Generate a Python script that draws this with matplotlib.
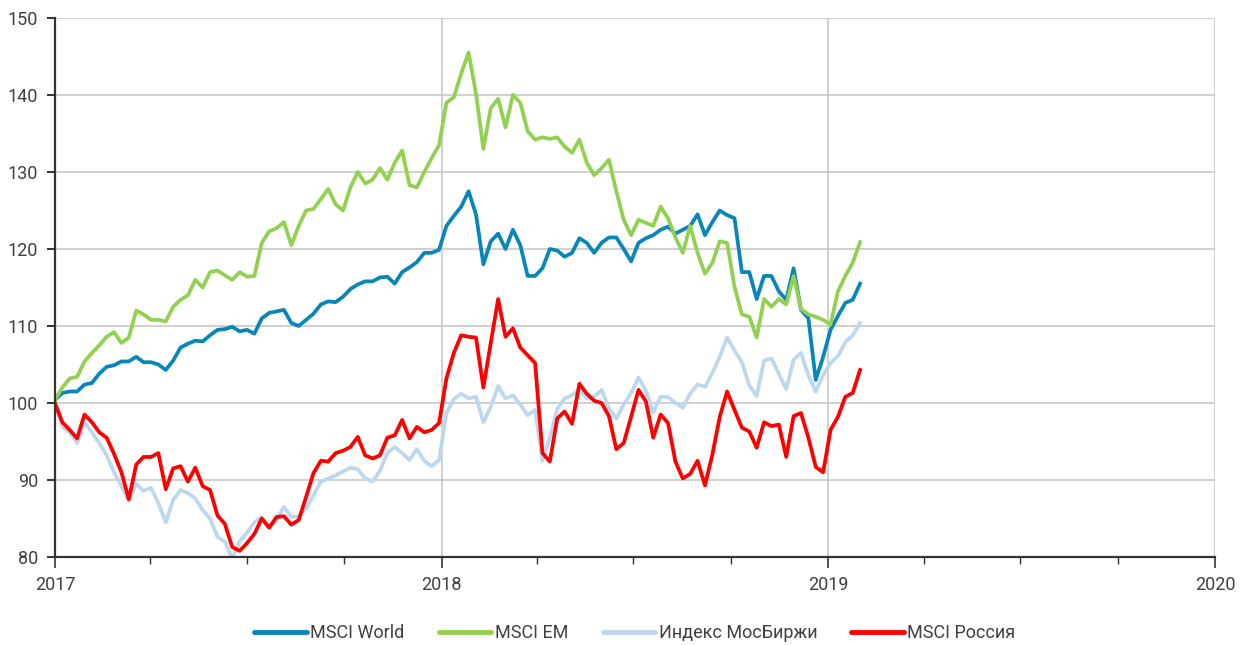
import matplotlib
matplotlib.use("Agg")
import matplotlib.pyplot as plt
import matplotlib.dates as mdates
import pandas as pd
import numpy as np

plt.rcParams['font.family'] = ['Roboto', 'DejaVu Sans']

# ---- data (weekly observations, Jan 2017 - end Jan 2019) ----
start_date = '2017-01-01'
end_date = '2019-01-31'

msci_world = [
    100.4, 101.3, 101.5, 101.5, 102.4, 102.6, 103.8, 104.7, 104.9, 105.4,
    105.4, 106.0, 105.3, 105.3, 105.0, 104.3, 105.5, 107.2, 107.7, 108.1,
    108.0, 108.8, 109.5, 109.6, 109.9, 109.3, 109.5, 109.0, 111.0, 111.7,
    111.9, 112.1, 110.4, 110.0, 110.8, 111.6, 112.8, 113.2, 113.1, 113.8,
    114.8, 115.4, 115.8, 115.8, 116.3, 116.4, 115.5, 117.0, 117.6, 118.3,
    119.5, 119.5, 119.9, 123.0, 124.3, 125.5, 127.5, 124.5, 118.0, 121.0,
    122.0, 120.0, 122.5, 120.5, 116.5, 116.5, 117.5, 120.0, 119.8, 119.0,
    119.5, 121.4, 120.8, 119.5, 120.8, 121.5, 121.5, 120.0, 118.4, 120.8,
    121.4, 121.8, 122.5, 122.9, 122.0, 122.5, 123.0, 124.5, 121.8, 123.5,
    125.0, 124.4, 124.0, 117.0, 117.0, 113.5, 116.5, 116.5, 114.5, 113.4,
    117.5, 112.1, 111.0, 103.0, 106.0, 109.5, 111.3, 113.0, 113.4, 115.5,
]

msci_em = [
    100.4, 102.0, 103.2, 103.4, 105.4, 106.5, 107.5, 108.6, 109.2, 107.8,
    108.5, 112.0, 111.5, 110.8, 110.8, 110.6, 112.5, 113.4, 114.0, 116.0,
    115.0, 117.0, 117.2, 116.6, 116.0, 117.0, 116.4, 116.5, 120.8, 122.3,
    122.7, 123.5, 120.5, 123.0, 125.0, 125.2, 126.5, 127.8, 125.8, 125.0,
    128.0, 130.0, 128.5, 129.0, 130.5, 129.0, 131.2, 132.8, 128.3, 128.0,
    130.0, 131.8, 133.5, 139.0, 139.7, 142.8, 145.5, 140.2, 133.0, 138.3,
    139.5, 135.8, 140.0, 139.0, 135.3, 134.2, 134.5, 134.3, 134.5, 133.3,
    132.5, 134.2, 131.2, 129.6, 130.5, 131.6, 127.5, 123.8, 121.8, 123.8,
    123.4, 123.0, 125.5, 124.0, 121.5, 119.5, 123.0, 119.5, 116.8, 118.2,
    121.0, 120.8, 115.1, 111.5, 111.2, 108.5, 113.5, 112.5, 113.5, 112.8,
    116.5, 112.2, 111.5, 111.2, 110.8, 110.2, 114.5, 116.5, 118.2, 120.9,
]

moex_index = [
    100.0, 96.9, 96.2, 94.8, 97.5, 96.2, 94.8, 93.2, 91.0, 89.2,
    87.3, 89.5, 88.6, 89.0, 87.0, 84.5, 87.4, 88.7, 88.3, 87.6,
    86.1, 85.0, 82.6, 82.0, 79.8, 82.0, 83.2, 84.5, 85.2, 83.9,
    84.8, 86.5, 85.2, 85.3, 86.3, 88.0, 89.8, 90.2, 90.6, 91.1,
    91.6, 91.4, 90.2, 89.8, 91.2, 93.5, 94.3, 93.5, 92.6, 94.0,
    92.5, 91.8, 92.6, 98.7, 100.5, 101.2, 100.6, 100.8, 97.5, 99.5,
    102.2, 100.6, 101.0, 99.8, 98.4, 99.1, 92.5, 95.5, 99.2, 100.6,
    101.0, 101.8, 100.6, 100.8, 101.7, 99.3, 98.0, 99.8, 101.3, 103.3,
    101.6, 98.8, 100.8, 100.8, 100.0, 99.4, 101.2, 102.4, 102.1, 103.9,
    106.0, 108.5, 106.8, 105.3, 102.3, 100.9, 105.5, 105.8, 103.8, 101.8,
    105.6, 106.5, 103.6, 101.5, 103.6, 105.2, 106.1, 107.9, 108.8, 110.4,
]

msci_russia = [
    100.0, 97.5, 96.5, 95.4, 98.5, 97.5, 96.2, 95.5, 93.4, 91.0,
    87.5, 92.0, 93.0, 93.0, 93.5, 88.8, 91.5, 91.8, 89.8, 91.6,
    89.2, 88.7, 85.4, 84.3, 81.3, 80.8, 81.8, 83.0, 85.0, 83.8,
    85.2, 85.3, 84.2, 84.8, 87.8, 90.9, 92.5, 92.4, 93.5, 93.8,
    94.3, 95.6, 93.2, 92.8, 93.2, 95.5, 95.8, 97.8, 95.4, 96.9,
    96.2, 96.5, 97.4, 103.2, 106.5, 108.8, 108.6, 108.5, 102.0, 107.8,
    113.5, 108.6, 109.7, 107.2, 106.2, 105.2, 93.5, 92.4, 98.0, 98.9,
    97.3, 102.5, 101.2, 100.3, 100.0, 98.3, 94.0, 94.8, 98.2, 101.7,
    100.2, 95.5, 98.5, 97.4, 92.4, 90.2, 90.8, 92.5, 89.3, 93.3,
    98.2, 101.5, 99.1, 96.8, 96.3, 94.2, 97.5, 97.0, 97.2, 93.0,
    98.3, 98.7, 95.5, 91.7, 91.0, 96.5, 98.2, 100.8, 101.3, 104.3,
]

series_labels = ['MSCI World', 'MSCI EM', 'Индекс МосБиржи', 'MSCI Россия']
series_colors = ['#0886BA', '#92D050', '#BDD7EE', '#FF0000']
y_ticks = [80, 90, 100, 110, 120, 130, 140, 150]
x_years = ['2017', '2018', '2019', '2020']

dates = pd.date_range(start_date, end_date, periods=len(msci_world))

fig = plt.figure(figsize=(12.46, 6.45), dpi=100)
ax = fig.add_axes([0.0441, 0.1364, 0.9310, 0.8357])

for vals, lab, col in zip([msci_world, msci_em, moex_index, msci_russia],
                          series_labels, series_colors):
    ax.plot(dates, vals, color=col, lw=2.7, label=lab, solid_joinstyle='round')

ax.set_xlim(pd.Timestamp('2017-01-01'), pd.Timestamp('2020-01-01'))
ax.set_ylim(80, 150)
ax.set_yticks(y_ticks)

ax.set_xticks([pd.Timestamp(y + '-01-01') for y in x_years])
ax.set_xticklabels(x_years)
ax.xaxis.set_minor_locator(mdates.MonthLocator(bymonth=[4, 7, 10]))

ax.grid(True, which='major', color='#C8C8C8', lw=1.2)
ax.set_axisbelow(True)

for s in ['top', 'right']:
    ax.spines[s].set_visible(False)
for s in ['left', 'bottom']:
    ax.spines[s].set_color('#333333')
    ax.spines[s].set_linewidth(1.6)

ax.tick_params(axis='y', which='major', direction='out', length=6, width=1.4,
               color='#333333', labelsize=13, labelcolor='#404040', pad=6)
ax.tick_params(axis='x', which='major', direction='out', length=8, width=1.2,
               color='#333333', labelsize=13, labelcolor='#404040', pad=6)
ax.tick_params(axis='x', which='minor', direction='out', length=5, width=1.0,
               color='#333333')

leg = ax.legend(loc='upper center', bbox_to_anchor=(0.5, -0.095), ncol=4,
                frameon=False, fontsize=13, handlelength=2.9,
                handletextpad=0.2, columnspacing=1.9)
for t in leg.get_texts():
    t.set_color('#404040')
for h in leg.get_lines():
    h.set_linewidth(3.5)
    h.set_solid_capstyle('round')

fig.savefig('out.png', dpi=100)
